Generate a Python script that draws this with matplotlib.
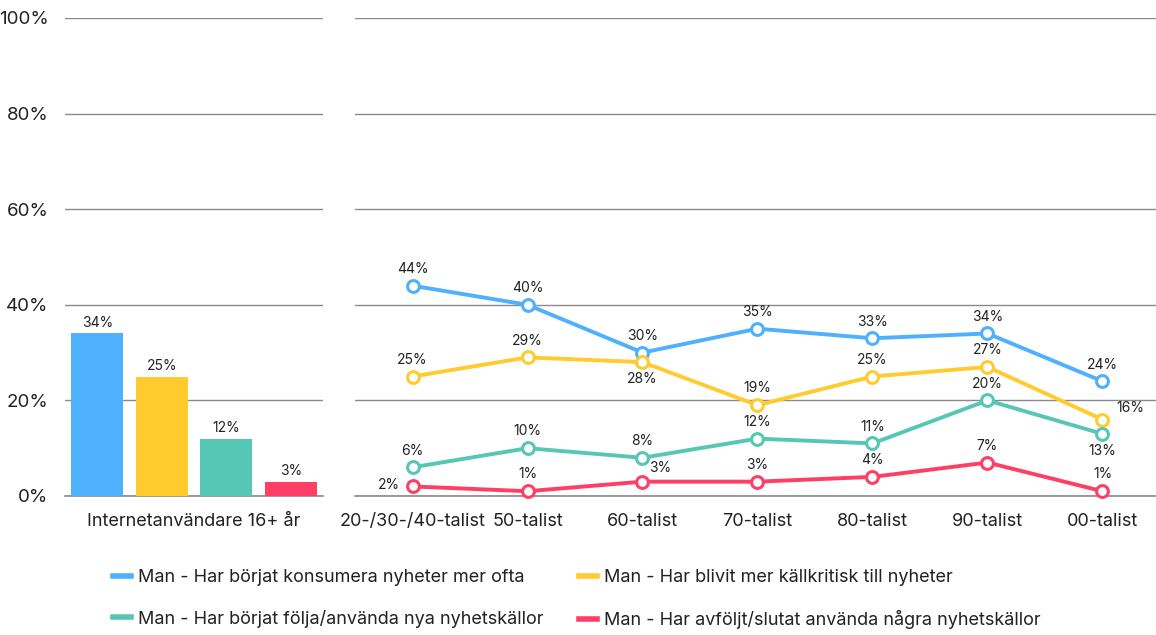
import matplotlib.pyplot as plt
from matplotlib.lines import Line2D

plt.rcParams['font.family'] = ['Inter', 'DejaVu Sans']

# data
bar_category = 'Internetanvändare 16+ år'
bar_values = [34, 25, 12, 3]

generations = ['20-/30-/40-talist', '50-talist', '60-talist', '70-talist',
               '80-talist', '90-talist', '00-talist']
konsumera = [44, 40, 30, 35, 33, 34, 24]
kallkritisk = [25, 29, 28, 19, 25, 27, 16]
folja = [6, 10, 8, 12, 11, 20, 13]
avfoljt = [2, 1, 3, 3, 4, 7, 1]

series_names = ['Man - Har börjat konsumera nyheter mer ofta',
                'Man - Har blivit mer källkritisk till nyheter',
                'Man - Har börjat följa/använda nya nyhetskällor',
                'Man - Har avföljt/slutat använda några nyhetskällor']
colors = ['#4FB0FD', '#FFCB2E', '#55C7B4', '#FF3E66']
grid_c = '#8a8a8a'
text_c = '#222222'

fig = plt.figure(figsize=(11.56, 6.35), dpi=100)
ax1 = fig.add_axes([65/1156, 139/635, 258/1156, 478/635])
ax2 = fig.add_axes([355/1156, 139/635, 805/1156, 478/635])

for ax in (ax1, ax2):
    ax.set_ylim(0, 100)
    ax.set_yticks([0, 20, 40, 60, 80, 100])
    ax.grid(axis='y', color=grid_c, linewidth=1)
    ax.axhline(0, color=grid_c, linewidth=1.2, zorder=2.5, clip_on=False)
    ax.set_axisbelow(True)
    for s in ax.spines.values():
        s.set_visible(False)
    ax.tick_params(axis='y', length=0, labelsize=13.5, labelcolor=text_c, pad=12)
    ax.tick_params(axis='x', length=0, labelsize=13, labelcolor=text_c, pad=12)

ax1.set_yticklabels([f'{v}%' for v in range(0, 101, 20)])
ax2.set_yticklabels([])

# bars
xb = range(len(bar_values))
ax1.bar(xb, bar_values, width=0.8, color=colors, zorder=3)
for x, v in zip(xb, bar_values):
    ax1.text(x, v + 0.8, f'{v}%', ha='center', va='bottom', fontsize=10, color=text_c)
ax1.set_xlim(-0.5, 3.5)
ax1.set_xticks([1.5])
ax1.set_xticklabels([bar_category])

# lines
xs = list(range(len(generations)))
all_series = [konsumera, kallkritisk, folja, avfoljt]
for vals, c in zip(all_series, colors):
    ax2.plot(xs, vals, color=c, linewidth=2.8, marker='o', markersize=8.5,
             markerfacecolor='white', markeredgecolor=c, markeredgewidth=2.2,
             zorder=3, clip_on=False)

# label placement: default above; some exceptions
special = {(1, 2): 'below', (1, 6): 'right', (2, 6): 'below', (3, 0): 'left',
           (3, 2): 'aboveright'}
offsets = {'above': ((0, 7), 'center', 'bottom'),
           'below': ((0, -7), 'center', 'top'),
           'right': ((10, 3), 'left', 'bottom'),
           'left': ((-9, 1), 'right', 'center'),
           'aboveright': ((13, 5), 'center', 'bottom')}
for si, vals in enumerate(all_series):
    for i, v in enumerate(vals):
        off, ha, va = offsets[special.get((si, i), 'above')]
        ax2.annotate(f'{v}%', (i, v), xytext=off, textcoords='offset points',
                     ha=ha, va=va, fontsize=10, color=text_c)

ax2.set_xlim(-0.5, 6.5)
ax2.set_xticks(xs)
ax2.set_xticklabels(generations)

# legend fills column-wise, so reorder to get row-wise order
order = [0, 2, 1, 3]
handles = [Line2D([], [], color=colors[k], linewidth=4) for k in order]
labels = [series_names[k] for k in order]
fig.legend(handles, labels, ncol=2, loc='center', bbox_to_anchor=(0.499, 0.0565),
           frameon=False, fontsize=13, handlelength=1.0, handletextpad=0.35,
           columnspacing=2.0, labelspacing=1.3, labelcolor=text_c)

fig.savefig('out.png', dpi=100)
